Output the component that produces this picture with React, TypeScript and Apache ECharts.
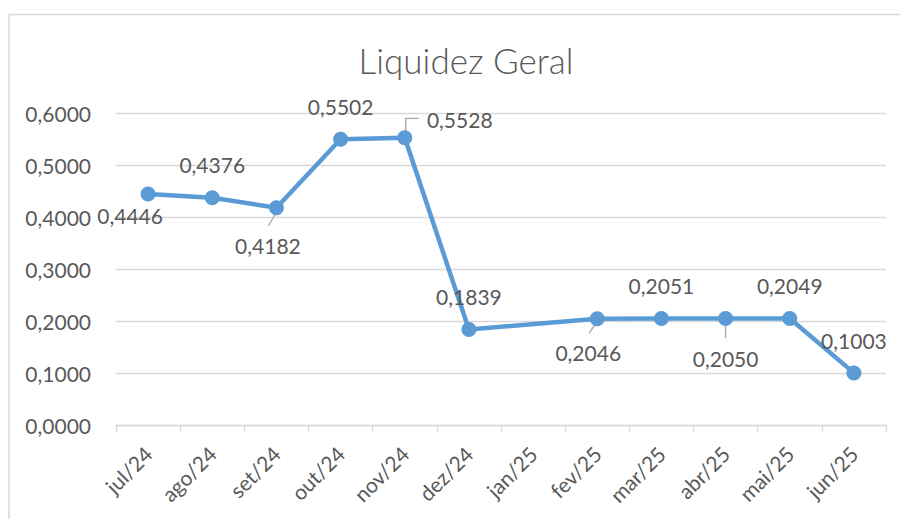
import React, { useEffect, useRef } from "react";
import * as echarts from "echarts";

const title = "Liquidez Geral";
const categories = ["jul/24", "ago/24", "set/24", "out/24", "nov/24", "dez/24", "jan/25", "fev/25", "mar/25", "abr/25", "mai/25", "jun/25"];
const values: (number | null)[] = [0.4446, 0.4376, 0.4182, 0.5502, 0.5528, 0.1839, null, 0.2046, 0.2051, 0.205, 0.2049, 0.1003];
const yTicks = { min: 0, max: 0.6, interval: 0.1 };

// styling: label offsets (px from point) and leader lines (px from point)
const labelOffsets: ([number, number] | null)[] = [
  [-18, 21.5], [0, -33], [-8.5, 37.5], [0, -33], [55, -18], [0, -33], null,
  [-9, 34], [0, -33], [0, 40], [0, -33], [0, -32],
];
const leaders: (number[][] | null)[] = [
  null, null, [[1, 3], [-8, 18]], null, [[1, -6], [1, -19.5], [14, -19.5]], null, null,
  [[-0.5, 3], [-8, 14.5]], null, [[0, 2], [0, 19.5]], null, null,
];

const FONT = "Lato";
const TXT = "#595959";
const GRID = "#d9d9d9";
const fmt = (v: number) => v.toFixed(4).replace(".", ",");

export default function App() {
  const ref = useRef<HTMLDivElement>(null);
  useEffect(() => {
    if (!ref.current) return;
    const chart = echarts.init(ref.current, undefined, { renderer: "svg" });
    chart.setOption({
      animation: false,
      backgroundColor: "#ffffff",
      title: {
        text: title,
        left: 461,
        top: 37,
        textAlign: "center",
        textStyle: { fontFamily: FONT, fontWeight: 300, fontSize: 35, color: TXT },
      },
      graphic: [
        {
          type: "rect",
          shape: { x: 9, y: 14.5, width: 1000, height: 600 },
          style: { fill: "none", stroke: GRID, lineWidth: 1.5 },
          silent: true,
        },
      ],
      grid: { left: 116, right: 14, top: 113.3, bottom: 94, outerBoundsMode: "none", containLabel: false },
      xAxis: {
        type: "category",
        data: categories,
        boundaryGap: true,
        axisLine: { show: true, lineStyle: { color: GRID, width: 1.3 } },
        axisTick: { show: true, length: 7, lineStyle: { color: GRID, width: 1.3 } },
        axisLabel: {
          rotate: 45,
          margin: 25,
          padding: [20, 0, 0, 0],
          interval: 0,
          fontFamily: FONT,
          fontSize: 21,
          color: TXT,
        },
      },
      yAxis: {
        type: "value",
        min: yTicks.min,
        max: yTicks.max,
        interval: yTicks.interval,
        axisLine: { show: false },
        axisTick: { show: false },
        splitLine: { lineStyle: { color: GRID, width: 1.3 } },
        axisLabel: { margin: 25, fontFamily: FONT, fontSize: 21, color: TXT, formatter: (v: number) => fmt(v) },
      },
      series: [
        {
          type: "custom",
          z: 1,
          silent: true,
          data: values.map((v, i) => [i, v]),
          renderItem: (params: any, api: any) => {
            const lead = leaders[params.dataIndex];
            const v = api.value(1);
            if (!lead || v == null || isNaN(v)) return null;
            const p = api.coord([api.value(0), v]);
            return {
              type: "polyline",
              shape: { points: lead.map((o) => [p[0] + o[0], p[1] + o[1]]) },
              style: { stroke: "#a6a6a6", lineWidth: 1.3, fill: "none" },
            };
          },
        },
        {
          type: "line",
          z: 2,
          connectNulls: true,
          data: values.map((v, i) => {
            const off = labelOffsets[i];
            if (v == null) return null;
            return {
              value: v,
              label: {
                show: true,
                position: "inside",
                offset: off || [0, 0],
                align: "center",
                verticalAlign: "middle",
                formatter: (p: any) => fmt(p.value),
                fontFamily: FONT,
                fontSize: 21,
                color: TXT,
              },
            };
          }),
          symbol: "circle",
          symbolSize: 15,
          showAllSymbol: true,
          lineStyle: { color: "#5b9bd5", width: 4.5 },
          itemStyle: { color: "#5b9bd5" },
          emphasis: { disabled: true },
        },
      ],
    });
    return () => chart.dispose();
  }, []);
  return <div ref={ref} style={{ position: "fixed", left: 0, top: 0, width: 900, height: 519 }} />;
}
